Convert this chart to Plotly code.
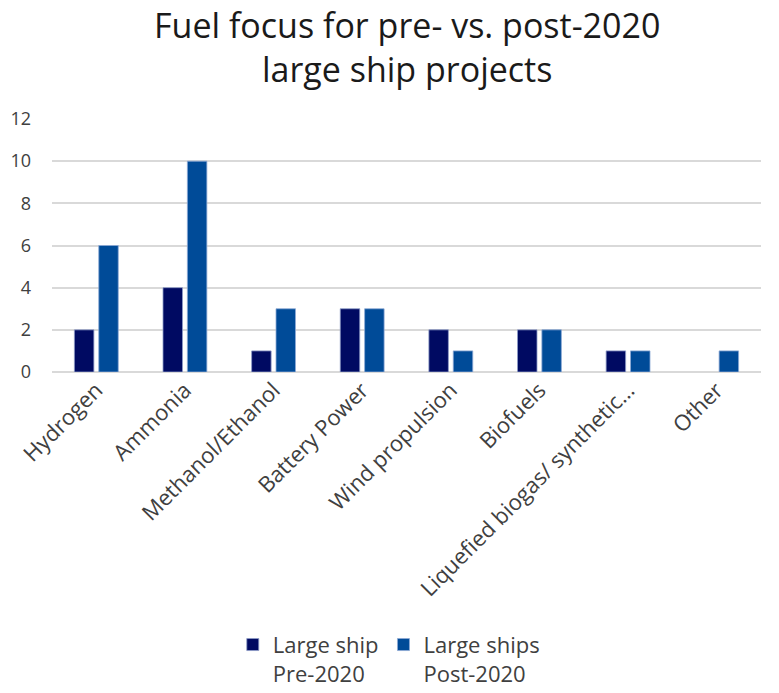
import plotly.graph_objects as go

categories = ["Hydrogen", "Ammonia", "Methanol/Ethanol", "Battery Power",
              "Wind propulsion", "Biofuels", "Liquefied biogas/ synthetic…", "Other"]
pre_2020 = [2, 4, 1, 3, 2, 2, 1, None]
post_2020 = [6, 10, 3, 3, 1, 2, 1, 1]
series_names = ["Large ship<br>Pre-2020", "Large ships<br>Post-2020"]
y_ticks = [0, 2, 4, 6, 8, 10, 12]
title_text = "Fuel focus for pre- vs. post-2020<br>large ship projects"

FONT = "Open Sans"

fig = go.Figure()
fig.add_trace(go.Bar(x=categories, y=pre_2020, name=series_names[0],
                     marker=dict(color="#000A62", line=dict(color="#8e9cc8", width=0.8))))
fig.add_trace(go.Bar(x=categories, y=post_2020, name=series_names[1],
                     marker=dict(color="#004B98", line=dict(color="#8eaad6", width=0.8))))

fig.add_annotation(text=title_text, xref="paper", yref="paper", x=0.5, y=1.283,
                   xanchor="center", yanchor="middle", showarrow=False, borderpad=0,
                   font=dict(family=FONT, size=34, color="#1a1a1a"))

fig.update_layout(
    width=779, height=693,
    paper_bgcolor="white", plot_bgcolor="white",
    font=dict(family=FONT, color="#404040"),
    margin=dict(l=52, r=18, t=119, b=321, autoexpand=False),
    barmode="group", bargap=0.45, bargroupgap=0.2,
    showlegend=True,
    legend=dict(orientation="h", x=0.475, xanchor="center", y=-0.995, yanchor="top",
                valign="top",
                font=dict(family=FONT, size=22, color="#404040"),
                itemwidth=30, traceorder="normal"),
    xaxis=dict(tickangle=-45, tickfont=dict(size=22, color="#404040"),
               showgrid=False, showline=False, ticks="", automargin=False),
    yaxis=dict(range=[0, 12], tickvals=y_ticks, showgrid=True, gridcolor="#d9d9d9",
               gridwidth=1.5, zeroline=True, zerolinecolor="#d9d9d9", zerolinewidth=1.5,
               tickfont=dict(size=18, color="#404040"), ticklabelstandoff=20,
               automargin=False),
)

fig.write_html("out.html", config={"displayModeBar": False},
               post_script="document.body.style.margin='0';document.body.style.overflow='hidden';")
